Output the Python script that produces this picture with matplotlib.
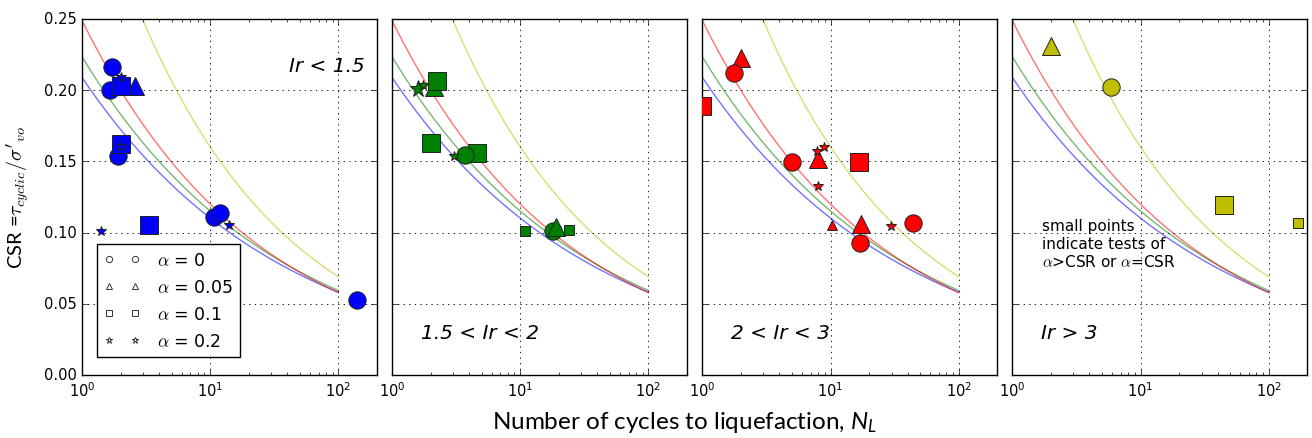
import numpy as np
import matplotlib
matplotlib.use('Agg')
import matplotlib.pyplot as plt
from matplotlib.lines import Line2D

plt.style.use('classic')
plt.rcParams.update({
    'figure.facecolor': 'white',
    'savefig.facecolor': 'white',
    'mathtext.fontset': 'cm',
    'mathtext.rm': 'Lato',
    'mathtext.it': 'Lato:italic',
    'mathtext.bf': 'Lato:bold',
})

# ---------------- data ----------------
panel_titles = ['Ir < 1.5', '1.5 < Ir < 2', '2 < Ir < 3', 'Ir > 3']
panel_colors = ['b', 'g', 'r', 'y']

# reference curves CSR = a * N^-b, drawn for N from 1 to 100
curve_colors = ['b', 'g', 'r', 'y']
curve_a = [0.209, 0.2235, 0.249, 0.3718]
curve_b = [0.278, 0.288, 0.317, 0.3657]
curve_N_range = [1, 100]

# Panel 1: Ir < 1.5
p1_N = [1.70, 1.65, 1.91, 2.58, 2.0, 2.0, 3.31, 10.7, 11.9, 138.6, 2.0, 2.03, 1.40, 14.0]
p1_CSR = [0.216, 0.200, 0.154, 0.203, 0.203, 0.162, 0.105, 0.111, 0.1135, 0.053, 0.209, 0.161, 0.101, 0.105]
p1_alpha = [0, 0, 0, 0.05, 0.1, 0.1, 0.1, 0, 0, 0, 0.2, 0.2, 0.2, 0.2]
p1_small = [0, 0, 0, 0, 0, 0, 0, 0, 0, 0, 1, 1, 1, 1]

# Panel 2: 1.5 < Ir < 2
p2_N = [1.60, 1.75, 2.13, 2.25, 2.01, 4.59, 3.68, 3.02, 10.9, 18.1, 18.9, 24.0]
p2_CSR = [0.201, 0.204, 0.202, 0.2067, 0.163, 0.156, 0.1545, 0.154, 0.101, 0.101, 0.104, 0.102]
p2_alpha = [0.2, 0.2, 0.05, 0.1, 0.1, 0.1, 0, 0.2, 0.1, 0, 0.05, 0.1]
p2_small = [0, 1, 0, 0, 0, 0, 0, 1, 1, 0, 0, 1]

# Panel 3: 2 < Ir < 3
p3_N = [1.0, 2.0, 1.77, 5.05, 7.99, 7.9, 8.91, 8.0, 16.8, 10.3, 17.4, 16.9, 29.4, 43.9]
p3_CSR = [0.189, 0.2226, 0.212, 0.1498, 0.1517, 0.1575, 0.160, 0.1325, 0.1498, 0.105, 0.106, 0.0927, 0.1044, 0.1067]
p3_alpha = [0.1, 0.05, 0, 0, 0.05, 0.2, 0.2, 0.2, 0.1, 0.05, 0.05, 0, 0.2, 0]
p3_small = [0, 0, 0, 0, 0, 1, 1, 1, 0, 1, 0, 0, 1, 0]

# Panel 4: Ir > 3
p4_N = [1.99, 5.93, 45.2, 168]
p4_CSR = [0.231, 0.202, 0.1196, 0.1067]
p4_alpha = [0.05, 0, 0.1, 0.1]
p4_small = [0, 0, 0, 1]

legend_alphas = [0, 0.05, 0.1, 0.2]
legend_labels = [r'$\alpha$ = 0', r'$\alpha$ = 0.05', r'$\alpha$ = 0.1', r'$\alpha$ = 0.2']

yticks = [0.00, 0.05, 0.10, 0.15, 0.20, 0.25]

# ---------------- style maps ----------------
marker_for_alpha = {0: 'o', 0.05: '^', 0.1: 's', 0.2: '*'}
BIG_MS = 12.5
SMALL_MS = 7.5

panels = [
    (p1_N, p1_CSR, p1_alpha, p1_small),
    (p2_N, p2_CSR, p2_alpha, p2_small),
    (p3_N, p3_CSR, p3_alpha, p3_small),
    (p4_N, p4_CSR, p4_alpha, p4_small),
]

W, H = 1312, 439
fig = plt.figure(figsize=(W / 100, H / 100), dpi=100)

ax_left_px = [82, 392, 702.3, 1012.3]
ax_w_px = 295
ax_top_px, ax_bot_px = 20, 376

Ncurve = np.logspace(np.log10(curve_N_range[0]), np.log10(curve_N_range[1]), 300)

axes = []
for i, (Nv, Cv, Av, Sv) in enumerate(panels):
    ax = fig.add_axes([ax_left_px[i] / W, (H - ax_bot_px) / H,
                       ax_w_px / W, (ax_bot_px - ax_top_px) / H])
    axes.append(ax)
    for c, a, b in zip(curve_colors, curve_a, curve_b):
        ax.plot(Ncurve, a * Ncurve ** (-b), color=c, lw=1.0, alpha=0.55, zorder=2)
    for n, csr, al, sm in zip(Nv, Cv, Av, Sv):
        ax.plot([n], [csr], ls='none', marker=marker_for_alpha[al],
                ms=SMALL_MS if sm else BIG_MS, mfc=panel_colors[i],
                mec='#222222', mew=0.7, zorder=3)
    ax.set_xscale('log')
    ax.set_xlim(1, 200)
    ax.set_ylim(0, 0.25)
    ax.set_yticks(yticks)
    ax.grid(True, which='major', ls=':', color='k', lw=0.6)
    ax.tick_params(axis='both', which='major', direction='in', length=4,
                   top=True, right=True, labelsize=10.5)
    ax.tick_params(axis='x', which='minor', direction='in', length=2, top=True)
    ax.tick_params(axis='y', which='minor', left=False, right=False)
    if i == 0:
        ax.yaxis.set_major_formatter(matplotlib.ticker.FormatStrFormatter('%.2f'))
    else:
        ax.tick_params(axis='y', labelleft=False)

# panel labels
axes[0].text(0.959, 0.869, panel_titles[0], transform=axes[0].transAxes,
             ha='right', va='center', fontsize=14.5, style='italic')
for i in (1, 2, 3):
    axes[i].text(0.097, 0.12, panel_titles[i], transform=axes[i].transAxes,
                 ha='left', va='center', fontsize=14.5, style='italic')

axes[3].text(0.10, 0.368, 'small points\nindicate tests of\n$\\alpha$>CSR or $\\alpha$=CSR',
             transform=axes[3].transAxes, ha='left', va='center', fontsize=11)

# legend
handles = [Line2D([], [], ls='none', marker=marker_for_alpha[a], ms=4.5,
                  mfc='white', mec='#333333', mew=0.7) for a in legend_alphas]
leg = axes[0].legend(handles, legend_labels, loc='lower left',
                     bbox_to_anchor=(0.05, 0.051), borderaxespad=0,
                     numpoints=2, handlelength=2.13, handletextpad=0.95,
                     fontsize=12.5, labelspacing=0.52,
                     frameon=True, fancybox=False)
leg.get_frame().set_edgecolor('k')
leg.get_frame().set_linewidth(1.0)

# axis labels
fig.text(18 / W, 1 - 198 / H, "CSR =$\\tau_{cyclic}/\\sigma'_{vo}$",
         rotation=90, ha='center', va='center', fontsize=14.5, family='Lato')
fig.text(685 / W, 1 - 423 / H, 'Number of cycles to liquefaction, $N_L$',
         ha='center', va='center', fontsize=17.5, family='Lato',
         math_fontfamily='custom')

fig.savefig('out.png', dpi=100)
